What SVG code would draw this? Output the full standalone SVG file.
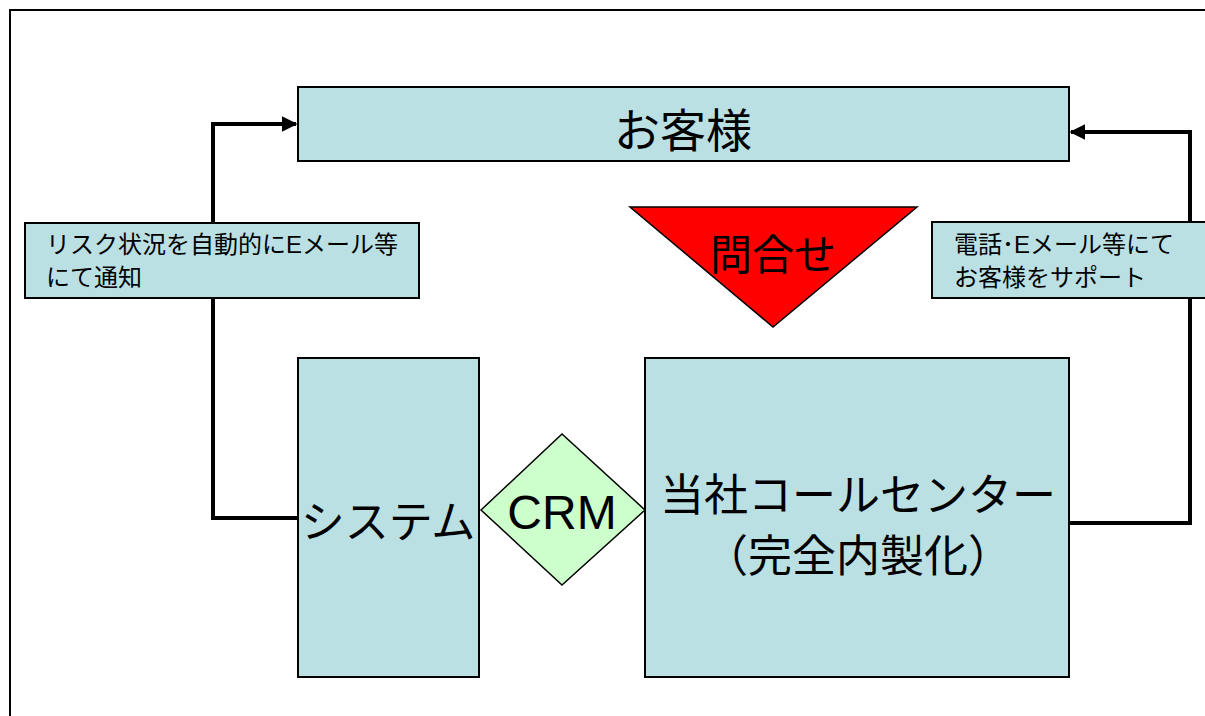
<svg xmlns="http://www.w3.org/2000/svg" width="1205" height="716" viewBox="0 0 1205 716">
<defs>
<style>
.box{fill:#BBE0E3;stroke:#000;stroke-width:2}
.t{font-family:"Liberation Sans","Noto Sans CJK JP",sans-serif;fill:#000}
.conn{fill:none;stroke:#000;stroke-width:4}
</style>
<marker id="ah" viewBox="0 0 10 10" refX="9" refY="5" markerWidth="4" markerHeight="4" orient="auto" markerUnits="strokeWidth">
<path d="M0,0 L10,5 L0,10 z" fill="#000"/>
</marker>
</defs>
<rect width="1205" height="716" fill="#fff"/>
<rect x="10" y="10" width="1210" height="720" fill="none" stroke="#000" stroke-width="2"/>
<g id="connectors">
<polyline class="conn" points="298,518 213,518 213,124 296,124" marker-end="url(#ah)"/>
<polyline class="conn" points="1069,523 1190,523 1190,132 1071,132" marker-end="url(#ah)"/>
</g>
<g id="customer">
<rect class="box" x="298" y="87" width="771" height="74"/>
<text class="t" x="683" y="147" font-size="46" text-anchor="middle">お客様</text>
</g>
<g id="label-left">
<rect class="box" x="25" y="223" width="394" height="75"/>
<text class="t" x="46" y="253" font-size="24">リスク状況を自動的にEメール等</text>
<text class="t" x="46" y="286" font-size="24">にて通知</text>
</g>
<g id="label-right">
<rect class="box" x="932" y="222" width="290" height="76"/>
<text class="t" x="954" y="253" font-size="24">電話･Eメール等にて</text>
<text class="t" x="954" y="286" font-size="24">お客様をサポート</text>
</g>
<g id="inquiry">
<polygon points="630,207 917,207 773,327" fill="#FF0000" stroke="#000" stroke-width="1.5"/>
<text class="t" x="773" y="270" font-size="42" text-anchor="middle">問合せ</text>
</g>
<g id="system">
<rect class="box" x="298" y="358" width="181" height="319"/>
<text class="t" x="388" y="538" font-size="44" text-anchor="middle">システム</text>
</g>
<g id="crm">
<polygon points="481,510 562,434 645,510 562,585" fill="#CCFFCC" stroke="#000" stroke-width="1.5"/>
<text class="t" x="562" y="529" font-size="48" text-anchor="middle">CRM</text>
</g>
<g id="callcenter">
<rect class="box" x="645" y="358" width="424" height="319"/>
<text class="t" x="858" y="511" font-size="44" text-anchor="middle">当社コールセンター</text>
<text class="t" x="858" y="572" font-size="44" text-anchor="middle">（完全内製化）</text>
</g>
</svg>
